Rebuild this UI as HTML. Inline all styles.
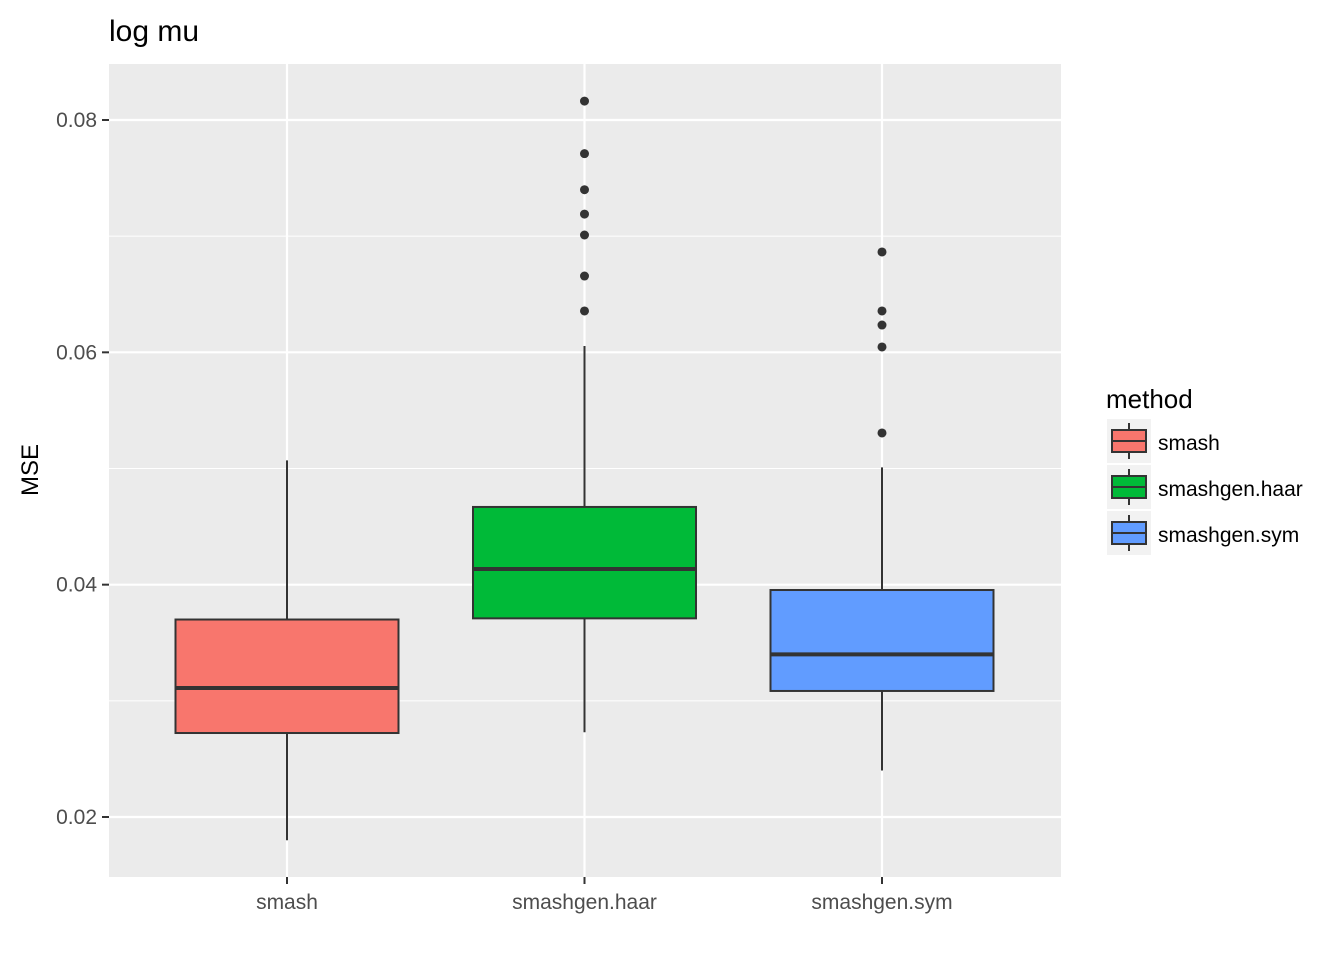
<!DOCTYPE html>
<html><head><meta charset="utf-8"><style>
body{margin:0;background:#fff;font-family:"Liberation Sans",Arial,sans-serif}
svg text{font-family:"Liberation Sans",Arial,sans-serif}
</style></head><body>
<svg id="chart" width="1344" height="960" xmlns="http://www.w3.org/2000/svg">
<text x="109" y="41" font-size="30" fill="#000">log mu</text>
<rect x="109" y="64" width="952" height="813" fill="#ebebeb"/>
<g id="grid"></g>
<g id="boxes"></g>
<g id="axes"></g>
<text transform="translate(38,470) rotate(-90)" text-anchor="middle" font-size="24" fill="#000">MSE</text>
<g>
<text x="1106" y="408" font-size="26" fill="#000">method</text>
<g id="legend"></g>
</g>
</svg>
<script>
const categories=["smash","smashgen.haar","smashgen.sym"];
const colors=["#f8766d","#00ba38","#619cff"];
const lowW=[0.0180,0.0273,0.0240];
const q1=[0.02723,0.0371,0.03085];
const med=[0.0311,0.04135,0.0340];
const q3=[0.0370,0.04669,0.03954];
const highW=[0.0507,0.06055,0.0501];
const outliers=[[],[0.06356,0.06657,0.0701,0.0719,0.0740,0.0771,0.08163],[0.05306,0.06046,0.06235,0.06356,0.06864]];
const yTicks=[0.02,0.04,0.06,0.08];
const yTickLabels=["0.02","0.04","0.06","0.08"];
const NS="http://www.w3.org/2000/svg";
const y=v=>817-(v-0.02)*11616.7;
const x=i=>287+i*297.5;
function mk(tag,attrs,parent){const e=document.createElementNS(NS,tag);for(const k in attrs)e.setAttribute(k,attrs[k]);parent.appendChild(e);return e;}
const grid=document.getElementById('grid'),boxes=document.getElementById('boxes'),axes=document.getElementById('axes'),legend=document.getElementById('legend');
for(let k=0;k<yTicks.length-1;k++){const m=(yTicks[k]+yTicks[k+1])/2;
 const l=mk('line',{x1:109,x2:1061,y1:y(m),y2:y(m),stroke:'#fff','stroke-width':1},grid);
 
 }
yTicks.forEach((t,k)=>{
 const l=mk('line',{x1:109,x2:1061,y1:y(t),y2:y(t),stroke:'#fff','stroke-width':2.2},grid);
 
 
 const tk=mk('line',{x1:102,x2:109,y1:y(t),y2:y(t),stroke:'#333','stroke-width':2},axes);
 
 
 const tx=mk('text',{x:97,y:y(t)+7,'text-anchor':'end','font-size':21,fill:'#4d4d4d'},axes);
 tx.textContent=yTickLabels[k];
 
 
});
categories.forEach((c,i)=>{
 const l=mk('line',{x1:x(i),x2:x(i),y1:64,y2:877,stroke:'#fff','stroke-width':2.2},grid);
 
 
 const g=mk('g',{},boxes);
 
 
 mk('line',{x1:x(i),x2:x(i),y1:y(lowW[i]),y2:y(highW[i]),stroke:'#333','stroke-width':2},g);
 mk('rect',{x:x(i)-111.5,y:y(q3[i]),width:223,height:y(q1[i])-y(q3[i]),fill:colors[i],stroke:'#333','stroke-width':2},g);
 mk('line',{x1:x(i)-111.5,x2:x(i)+111.5,y1:y(med[i]),y2:y(med[i]),stroke:'#333','stroke-width':4},g);
 outliers[i].forEach(o=>{const p=mk('circle',{cx:x(i),cy:y(o),r:4.5,fill:'#333'},g);
  
  });
 const tk=mk('line',{x1:x(i),x2:x(i),y1:877,y2:884,stroke:'#333','stroke-width':2},axes);
 
 
 const tx=mk('text',{x:x(i),y:909,'text-anchor':'middle','font-size':21,fill:'#4d4d4d'},axes);
 tx.textContent=c;
 
 
 const ly=419+i*46;
 const lg=mk('g',{},legend);
 
 
 mk('rect',{x:1107,y:ly,width:44,height:44,fill:'#f2f2f2'},lg);
 mk('line',{x1:1129,x2:1129,y1:ly+4,y2:ly+40,stroke:'#333','stroke-width':2},lg);
 mk('rect',{x:1112,y:ly+11,width:34,height:22,fill:colors[i],stroke:'#333','stroke-width':2},lg);
 mk('line',{x1:1112,x2:1146,y1:ly+22,y2:ly+22,stroke:'#333','stroke-width':2},lg);
 const lt=mk('text',{x:1158,y:ly+31,'font-size':21,fill:'#000'},lg);
 lt.textContent=c;
});
</script>
</body></html>
